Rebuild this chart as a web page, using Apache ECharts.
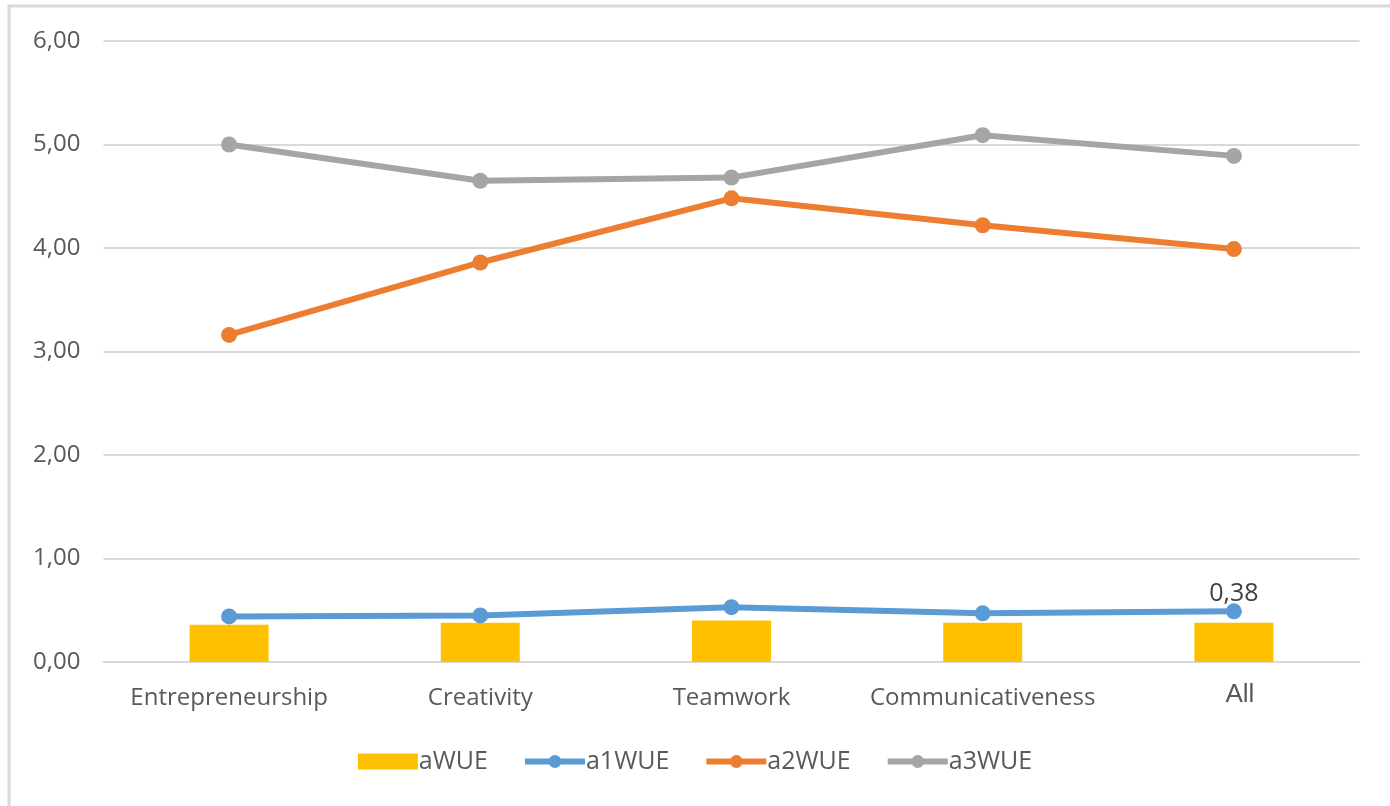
<!DOCTYPE html>
<html>
<head>
<meta charset="utf-8">
<script src="https://cdn.jsdelivr.net/npm/echarts@6/dist/echarts.min.js"></script>
<style>
  html, body { margin: 0; padding: 0; background: #fff; }
  #chart { width: 1390px; height: 806px; }
</style>
</head>
<body>
<div id="chart"></div>
<script>
const categories = ["Entrepreneurship", "Creativity", "Teamwork", "Communicativeness", "All"]
const aWUE = [0.36, 0.38, 0.40, 0.38, 0.38]
const a1WUE = [0.44, 0.45, 0.53, 0.47, 0.49]
const a2WUE = [3.16, 3.86, 4.48, 4.22, 3.99]
const a3WUE = [5.00, 4.65, 4.68, 5.09, 4.89]
const yTicks = { min: 0, max: 6, interval: 1 }

const fmt = v => Number(v).toFixed(2).replace(".", ",")
const font = "'Open Sans', 'Noto Sans', sans-serif"

const chart = echarts.init(document.getElementById("chart"))

const lineSeries = (name, data, color) => ({
    name: name,
    type: "line",
    data: data,
    symbol: "circle",
    symbolSize: 16,
    lineStyle: { width: 6, color: color },
    itemStyle: { color: color },
    z: 3
})

const option = {
    animation: false,
    color: ["#FFC000", "#5B9BD5", "#ED7D31", "#A5A5A5"],
    textStyle: { fontFamily: font },
    graphic: [{
        type: "rect",
        shape: { x: 9, y: 6, width: 1420, height: 840 },
        style: { fill: "none", stroke: "#D9D9D9", lineWidth: 3 },
        silent: true
    }],
    grid: { left: 103.5, right: 30.5, top: 41, bottom: 144 },
    legend: {
        data: [
            { name: "aWUE", icon: "rect" },
            "a1WUE", "a2WUE", "a3WUE"
        ],
        bottom: 27,
        left: "center",
        itemWidth: 60,
        itemHeight: 16,
        itemGap: 34,
        lineStyle: { width: 6 },
        textStyle: { color: "#595959", fontSize: 25, fontFamily: font, padding: [0, 0, 0, -4] }
    },
    xAxis: {
        type: "category",
        data: categories,
        axisLine: { lineStyle: { color: "#D9D9D9", width: 2 } },
        axisTick: { show: false },
        axisLabel: {
            color: "#595959",
            fontSize: 24,
            margin: 20,
            interval: 0,
            formatter: v => v === "All" ? "{all|" + v + "}" : "{n|" + v + "}",
            rich: {
                n: {
                    fontSize: 24,
                    color: "#595959",
                    fontFamily: font,
                    padding: [4, 0, 0, 0]
                },
                all: {
                    fontFamily: "'Liberation Sans', Arial, sans-serif",
                    fontSize: 26,
                    color: "#595959",
                    padding: [0, 0, 0, 12]
                }
            }
        }
    },
    yAxis: {
        type: "value",
        min: yTicks.min,
        max: yTicks.max,
        interval: yTicks.interval,
        axisLine: { show: false },
        axisTick: { show: false },
        splitLine: { lineStyle: { color: "#D9D9D9", width: 2 } },
        axisLabel: { color: "#595959", fontSize: 24, margin: 23, formatter: fmt }
    },
    series: [
        {
            name: "aWUE",
            type: "bar",
            barWidth: 79,
            itemStyle: { color: "#FFC000" },
            data: aWUE.map((v, i) => i === aWUE.length - 1 ? {
                value: v,
                label: {
                    show: true,
                    position: "top",
                    distance: 16,
                    formatter: p => fmt(p.value),
                    color: "#404040",
                    fontSize: 25,
                    fontFamily: font
                }
            } : v),
            z: 2
        },
        lineSeries("a1WUE", a1WUE, "#5B9BD5"),
        lineSeries("a2WUE", a2WUE, "#ED7D31"),
        lineSeries("a3WUE", a3WUE, "#A5A5A5")
    ]
}
chart.setOption(option)
</script>
</body>
</html>
